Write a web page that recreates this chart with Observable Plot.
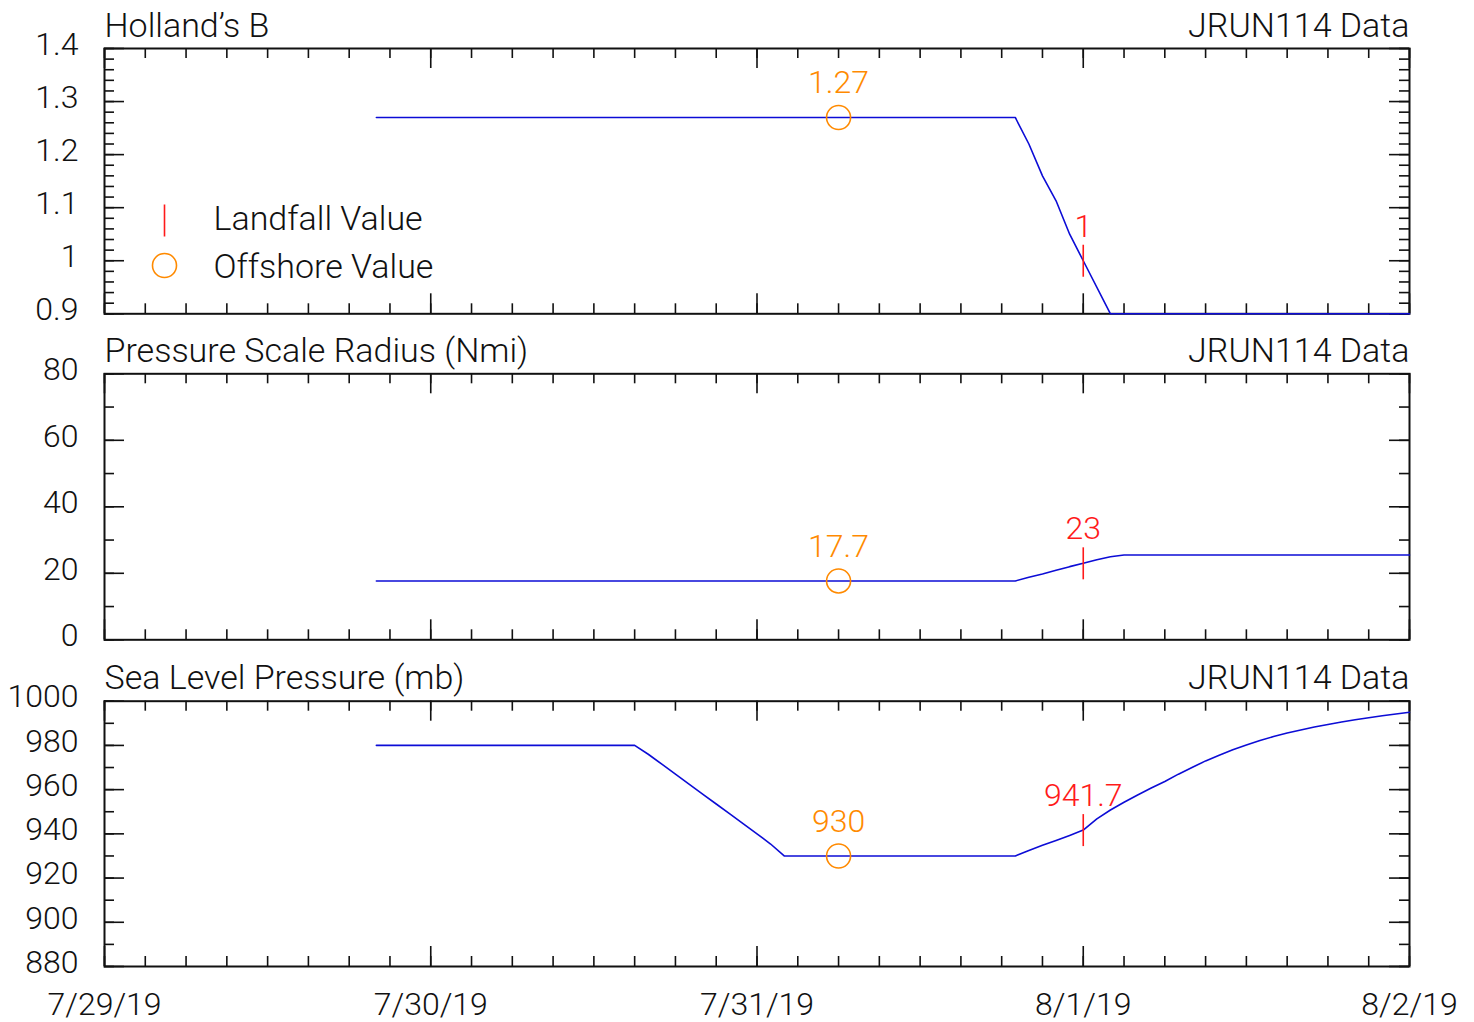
<!DOCTYPE html>
<html>
<head>
<meta charset="utf-8">
<script src="https://cdn.jsdelivr.net/npm/d3@7"></script>
<script src="https://cdn.jsdelivr.net/npm/@observablehq/plot@0.6"></script>
<style>
  html, body { margin: 0; padding: 0; background: #fff; }
  #chart { position: relative; width: 1474px; height: 1022px; overflow: hidden; }
  #chart svg { position: absolute; left: 0; }
</style>
</head>
<body>
<div id="chart"></div>
<script>
// ---------------- DATA ----------------
const dayLabels = ["7/29/19", "7/30/19", "7/31/19", "8/1/19", "8/2/19"];
const sourceLabel = "JRUN114 Data";
const panelTitles = ["Holland’s B", "Pressure Scale Radius (Nmi)", "Sea Level Pressure (mb)"];

// times are hours after 7/29/19 00:00
const hoursB = [20, 67, 68, 69, 70, 71, 72, 74, 96];
const hollandB = [1.27, 1.27, 1.22, 1.16, 1.113, 1.05, 1.0, 0.9, 0.9];

const hoursR = [20, 67, 68, 69, 70, 71, 72, 73, 74, 75, 96];
const radiusNmi = [17.7, 17.7, 18.8, 19.8, 20.9, 22.0, 23.0, 24.1, 25.0, 25.5, 25.5];

const hoursP = [20, 39, 40, 41, 42, 43, 44, 45, 46, 47, 48, 49, 50, 67, 68, 69, 70, 71, 72,
  73, 74, 75, 76, 77, 78, 79, 80, 81, 82, 83, 84, 85, 86, 87, 88, 89, 90, 91, 92, 93, 94, 95, 96];
const pressureMb = [980, 980, 976, 971.5, 967, 962.5, 958, 953.5, 949, 944.5, 940, 935.4, 930, 930,
  932.5, 934.8, 937, 939.3, 941.7, 946.8, 950.8, 954.3, 957.6, 960.7, 963.7, 967, 970, 973, 975.5,
  978, 980.2, 982.2, 984, 985.6, 987, 988.3, 989.5, 990.6, 991.6, 992.5, 993.4, 994.2, 995];

const landfallHour = 72;
const landfallValues = [1.0, 23, 941.7];
const landfallLabels = ["1", "23", "941.7"];
const offshoreHour = 54;
const offshoreValues = [1.27, 17.7, 930];
const offshoreLabels = ["1.27", "17.7", "930"];

const ticksB = [0.9, 1, 1.1, 1.2, 1.3, 1.4];
const ticksR = [0, 20, 40, 60, 80];
const ticksP = [880, 900, 920, 940, 960, 980, 1000];

const legendLabels = ["Landfall Value", "Offshore Value"];

// ---------------- LAYOUT ----------------
const W = 1474, ML = 104, MR = 65;
const FW = W - ML - MR;
const BLUE = "#0c0cd6", RED = "#ff1a1a", ORANGE = "#ff8a00", INK = "#111";
const FONT = 32, TITLE_FONT = 34;
const start = new Date(Date.UTC(2019, 6, 29));
const end = new Date(Date.UTC(2019, 7, 2));
const toDate = h => new Date(start.getTime() + h * 3600e3);
const xMajor = d3.utcDay.range(start, d3.utcDay.offset(end, 1));
const xMinor = d3.utcHour.every(3).range(start, d3.utcHour.offset(end, 1));

const panels = [
  {hours: hoursB, values: hollandB, domain: [0.9, 1.4], major: ticksB,
   minor: d3.range(26).map(i => 0.9 + i * 0.02), top: 0, height: 330, mt: 48, mb: 16.7},
  {hours: hoursR, values: radiusNmi, domain: [0, 80], major: ticksR,
   minor: d3.range(9).map(i => i * 10), top: 330, height: 330, mt: 43.3, mb: 20.7},
  {hours: hoursP, values: pressureMb, domain: [880, 1000], major: ticksP,
   minor: d3.range(13).map(i => 880 + i * 10), top: 660, height: 362, mt: 40.7, mb: 56}
];

// vertical bar symbol for the landfall marker
const vbar = {draw(context, size) { const r = Math.sqrt(size / Math.PI); context.moveTo(0, -r); context.lineTo(0, r); }};

const chart = document.getElementById("chart");

panels.forEach((p, i) => {
  const FH = p.height - p.mt - p.mb;
  const series = p.hours.map((h, k) => ({t: toDate(h), v: p.values[k]}));
  const land = [{t: toDate(landfallHour), v: landfallValues[i], label: landfallLabels[i]}];
  const off = [{t: toDate(offshoreHour), v: offshoreValues[i], label: offshoreLabels[i]}];
  const tickStyle = {stroke: INK, strokeWidth: 1.6};
  const marks = [
    // inward ticks on all four sides
    Plot.tickX(xMinor, {x: d => d, insetTop: FH - 10, ...tickStyle}),
    Plot.tickX(xMinor, {x: d => d, insetBottom: FH - 10, ...tickStyle}),
    Plot.tickX(xMajor, {x: d => d, insetTop: FH - 20, ...tickStyle}),
    Plot.tickX(xMajor, {x: d => d, insetBottom: FH - 20, ...tickStyle}),
    Plot.tickY(p.minor, {y: d => d, insetRight: FW - 10, ...tickStyle}),
    Plot.tickY(p.minor, {y: d => d, insetLeft: FW - 10, ...tickStyle}),
    Plot.tickY(p.major, {y: d => d, insetRight: FW - 20, ...tickStyle}),
    Plot.tickY(p.major, {y: d => d, insetLeft: FW - 20, ...tickStyle}),
    Plot.frame({stroke: INK, strokeWidth: 2}),
    Plot.axisY(p.major, {tickSize: 0, tickPadding: 26, fontSize: FONT, dy: -4, label: null,
      tickFormat: d => String(d), fill: INK}),
    i === panels.length - 1
      ? Plot.axisX(xMajor, {tickSize: 0, tickPadding: 26, fontSize: FONT, label: null, fill: INK,
          tickFormat: d => dayLabels[xMajor.findIndex(t => +t === +d)]})
      : Plot.axisX([], {label: null}),
    Plot.line(series, {x: "t", y: "v", stroke: BLUE, strokeWidth: 1.6}),
    Plot.dot(off, {x: "t", y: "v", r: 12, stroke: ORANGE, strokeWidth: 1.6, fill: "none"}),
    Plot.text(off, {x: "t", y: "v", text: "label", dy: -24, lineAnchor: "bottom", fill: ORANGE, fontSize: FONT}),
    Plot.dot(land, {x: "t", y: "v", r: 16, symbol: vbar, stroke: RED, strokeWidth: 1.6}),
    Plot.text(land, {x: "t", y: "v", text: "label", dy: -24, lineAnchor: "bottom", fill: RED, fontSize: FONT}),
    Plot.text([panelTitles[i]], {frameAnchor: "top-left", text: d => d, textAnchor: "start", lineAnchor: "bottom",
      dy: -12, fill: INK, fontSize: TITLE_FONT}),
    Plot.text([sourceLabel], {frameAnchor: "top-right", text: d => d, textAnchor: "end", lineAnchor: "bottom",
      dy: -12, fill: INK, fontSize: TITLE_FONT})
  ];
  if (i === 0) {
    marks.push(
      Plot.dot([legendLabels[0]], {frameAnchor: "top-left", dx: 60, dy: 172, r: 16, symbol: vbar, stroke: RED, strokeWidth: 1.6}),
      Plot.dot([legendLabels[1]], {frameAnchor: "top-left", dx: 60, dy: 217, r: 12, stroke: ORANGE, strokeWidth: 1.6, fill: "none"}),
      Plot.text([legendLabels[0]], {frameAnchor: "top-left", text: d => d, textAnchor: "start", lineAnchor: "bottom",
        dx: 109, dy: 181, fill: INK, fontSize: TITLE_FONT}),
      Plot.text([legendLabels[1]], {frameAnchor: "top-left", text: d => d, textAnchor: "start", lineAnchor: "bottom",
        dx: 109, dy: 229, fill: INK, fontSize: TITLE_FONT})
    );
  }
  const svg = Plot.plot({
    width: W,
    height: p.height,
    marginLeft: ML,
    marginRight: MR,
    marginTop: p.mt,
    marginBottom: p.mb,
    style: {fontFamily: "Roboto, 'Liberation Sans', sans-serif", fontWeight: 300, background: "transparent", overflow: "visible"},
    x: {type: "utc", domain: [start, end]},
    y: {domain: p.domain},
    marks
  });
  svg.style.top = p.top + "px";
  chart.appendChild(svg);
});
</script>
</body>
</html>
